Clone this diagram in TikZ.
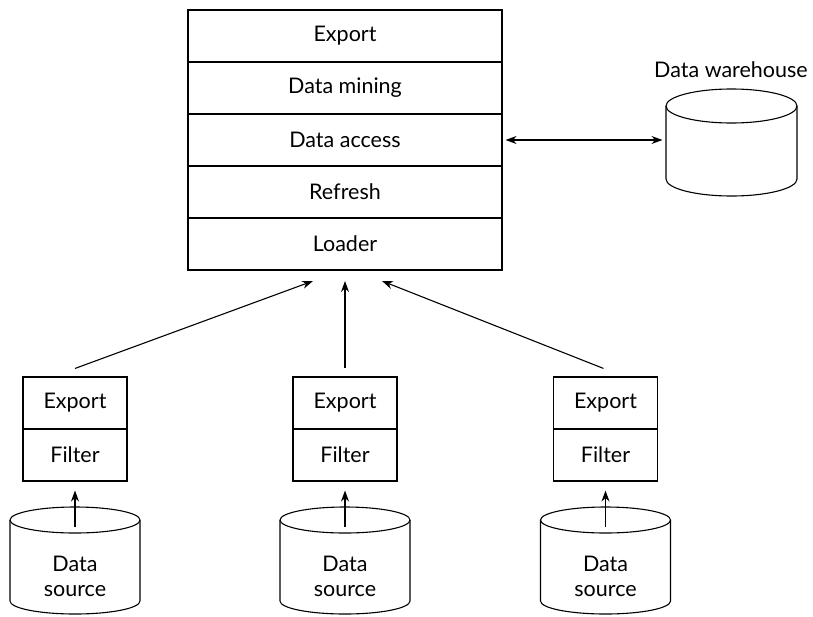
\documentclass[tikz,border=0pt]{standalone}
\usepackage{fontspec}
\setmainfont{Lato}
\usetikzlibrary{arrows.meta,calc}
\newcommand\mycyl[5]{% cx, rx, top y, bottom y, ry
  \draw ({#1},{#3}) ellipse[x radius=#2pt, y radius=#5pt];
  \draw ({#1-#2},{#3}) -- ({#1-#2},{#4}) arc[start angle=180,end angle=360,x radius=#2pt,y radius=#5pt] -- ({#1+#2},{#3});
}
\begin{document}
\begin{tikzpicture}[x=1pt,y=-1pt,line width=1.1pt,
  txt/.style={font=\fontsize{21.5}{25}\selectfont},
  row/.style={draw,txt,minimum width=314pt,minimum height=52pt,inner sep=0pt},
  sbox/.style={draw,txt,minimum width=104pt,minimum height=52pt,inner sep=0pt},
  arr/.style={-{Stealth[length=11pt,width=8pt]}},
  darr/.style={{Stealth[length=11pt,width=8pt]}-{Stealth[length=11pt,width=8pt]}}]
\useasboundingbox (0,0) rectangle (813,616);
% main stack
\node[row] (m1) at (345,36) {Export};
\node[row] (m2) at (345,88) {Data mining};
\node[row] (m3) at (345,140) {Data access};
\node[row] (m4) at (345,192) {Refresh};
\node[row] (m5) at (345,244) {Loader};
% data warehouse
\mycyl{731.5}{65.5}{106}{179}{17}
\node[minimum width=131pt,minimum height=110pt,inner sep=0pt] (dw) at (731.5,142) {};
\node[txt] (dwl) at (731,70) {Data warehouse};
\draw[darr,shorten <=3pt,shorten >=3pt] (m3.east) -- (m3.east -| dw.west);
% sources
\foreach \i/\x in {1/75,2/345,3/605.5}{
  \node[sbox] (e\i) at (\x,403) {Export};
  \node[sbox] (f\i) at (\x,455) {Filter};
  \mycyl{\x}{65}{520}{601}{13}
  \node[txt,align=center,inner sep=0pt] (s\i) at (\x,576) {Data\\source};
  \coordinate (c\i) at (\x,527);
  \draw[arr,shorten >=9pt] (c\i) -- (f\i.south);
}
\coordinate (t1) at (313,281);
\coordinate (t2) at (345,281);
\coordinate (t3) at (382,281);
\draw[arr] ($(e1.north)+(0,-8)$) -- (t1);
\draw[arr] ($(e2.north)+(0,-8)$) -- (t2);
\draw[arr] ($(e3.north)+(-2,-8)$) -- (t3);
\end{tikzpicture}
\end{document}
